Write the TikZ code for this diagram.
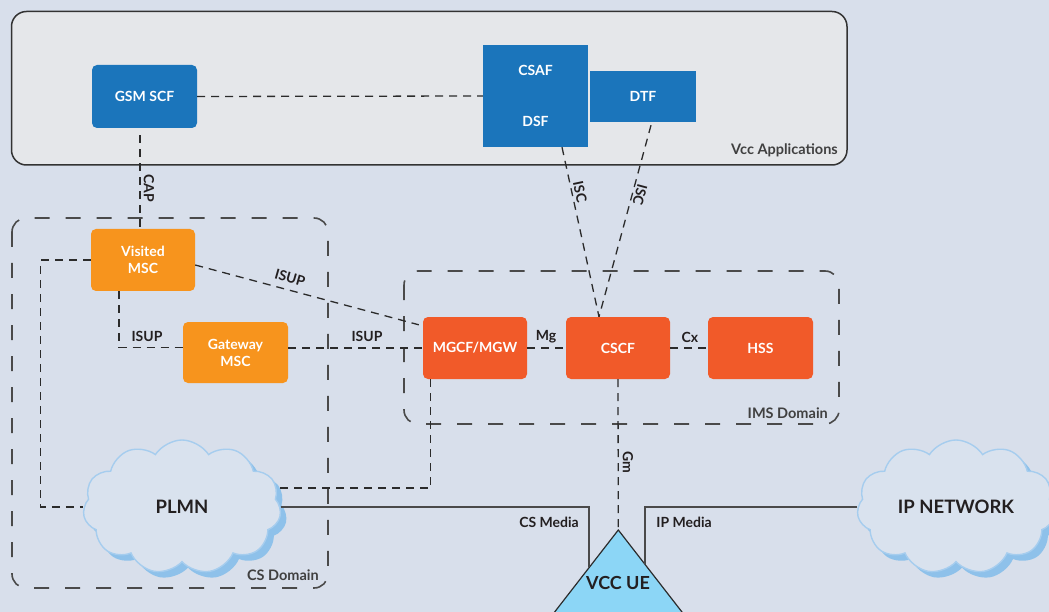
\documentclass[tikz,border=0pt]{standalone}
\usepackage{fontspec}
\setmainfont{Lato}
\usetikzlibrary{shapes.symbols,calc}
\definecolor{bgc}{HTML}{D8DFEB}
\definecolor{vccfill}{HTML}{E5E7EA}
\definecolor{vccline}{HTML}{333333}
\definecolor{blueF}{HTML}{1B75BB}
\definecolor{orangeF}{HTML}{F7941D}
\definecolor{redF}{HTML}{F15A29}
\definecolor{linec}{HTML}{2B2B2B}
\definecolor{domc}{HTML}{4A4A4A}
\definecolor{labc}{HTML}{231F20}
\definecolor{domlab}{HTML}{404040}
\definecolor{cloudline}{HTML}{A6CDEE}
\definecolor{cloudshadow}{HTML}{8EC1EA}
\definecolor{cloudfill}{HTML}{D9E2EE}
\definecolor{uefill}{HTML}{8CD6F6}
\tikzset{
  conn/.style={draw=linec, line width=1.3pt, dash pattern=on 8pt off 6pt},
  dom/.style={draw=domc, line width=1.6pt, dash pattern=on 15pt off 16pt, rounded corners=14pt},
  media/.style={draw=domc, line width=1.6pt},
  box/.style={rectangle, rounded corners=5pt, text=white, font=\fontsize{14}{17}\selectfont\bfseries, align=center, inner sep=0pt},
  bluebox/.style={box, fill=blueF},
  orbox/.style={box, fill=orangeF, minimum width=104pt, minimum height=62pt},
  redbox/.style={box, fill=redF, minimum width=104pt, minimum height=62pt},
  lbl/.style={font=\fontsize{14}{15}\selectfont\bfseries, text=labc, inner sep=0pt},
  domlbl/.style={font=\fontsize{14.5}{15}\selectfont\bfseries, text=domlab, inner sep=0pt},
  cloudsh/.style={cloud, cloud puffs=11, cloud puff arc=115, cloud ignores aspect, minimum width=198pt, minimum height=134pt, inner sep=0pt},
  bigtxt/.style={font=\fontsize{18.5}{20}\selectfont\bfseries, text=labc},
}
\begin{document}
\begin{tikzpicture}[x=1pt,y=-1pt]
\useasboundingbox (0,0) rectangle (1049,612);
\clip (0,0) rectangle (1049,612);
\fill[bgc] (0,0) rectangle (1049,612);

% Vcc Applications area
\draw[fill=vccfill, draw=vccline, line width=1.5pt, rounded corners=15pt] (11.5,11.5) rectangle (847,165);
\node[domlbl, anchor=east] (vcclab) at (838,150) {Vcc Applications};

% domains
\draw[dom] (12,218) rectangle (328,588);
\node[domlbl, anchor=east] (cslab) at (319,575) {CS Domain};
\draw[dom] (404,271) rectangle (839,424);
\node[domlbl, anchor=east] (imslab) at (828,413) {IMS Domain};

% blue boxes
\node[bluebox, minimum width=105pt, minimum height=63pt] (gsm) at (144.5,96.5) {GSM SCF};
\node[bluebox, rounded corners=0pt, minimum width=105pt, minimum height=102pt] (csafdsf) at (535.5,96) {};
\node[box] (csaftxt) at (535.5,70) {CSAF};
\node[box] (dsftxt) at (535.5,121) {DSF};
\node[bluebox, rounded corners=0pt, minimum width=106pt, minimum height=51pt] (dtf) at (643,96.5) {DTF};

% CS nodes
\node[orbox] (vmsc) at (143,260) {Visited\\MSC};
\node[orbox, minimum width=105pt, minimum height=61pt] (gmsc) at (235.5,352.5) {Gateway\\MSC};

% IMS nodes
\node[redbox] (mgcf) at (475,348) {MGCF/MGW};
\node[redbox] (cscf) at (618,348) {CSCF};
\node[redbox, minimum width=105pt] (hss) at (760.5,348) {HSS};

% clouds
\node[cloudsh, fill=cloudshadow] (plmnsh) at (188,513) {};
\node[cloudsh, fill=cloudfill, draw=cloudline, line width=1.4pt, bigtxt] (plmn) at (182,507) {PLMN};
\node[cloudsh, fill=cloudshadow] (ipsh) at (962,513) {};
\node[cloudsh, fill=cloudfill, draw=cloudline, line width=1.4pt, bigtxt] (ipnet) at (956,507) {IP NETWORK};

% VCC UE
\coordinate (ue) at (618.3,530);
\coordinate (ueL) at (529,645);
\coordinate (ueR) at (707.6,645);
\filldraw[fill=uefill, draw=linec, line width=1.2pt] (ue) -- (ueL) -- (ueR) -- cycle;
\node[bigtxt, font=\fontsize{18}{20}\selectfont\bfseries] (uetxt) at (618,583) {VCC UE};
\coordinate (csend) at (589,567);
\coordinate (ipend) at (645,564);
\coordinate (plmnne) at (276,488);

% connectors
\draw[conn] (gsm.east) -- (csafdsf.west);
\draw[conn] ($(gsm.south)+(-4.5,7)$) -- ($(vmsc.north)+(-3,0)$);
\node[lbl, rotate=-90] (caplab) at (149,188) {CAP};

\draw[conn] (vmsc.west) -- ++(-50,0) |- (plmn.west);
\draw[conn] ($(vmsc.south)+(-24,0)$) |- ([yshift=5pt]gmsc.west);
\node[lbl] (isup1) at (147,336) {ISUP};
\draw[conn] ([yshift=-5pt]vmsc.east) -- ([xshift=-4pt,yshift=-8pt]mgcf.north west);
\node[lbl, rotate=-16] (isup2) at (290,278) {ISUP};
\draw[conn] (gmsc.east |- mgcf.west) -- (mgcf.west);
\node[lbl] (isup3) at (367,336) {ISUP};

\draw[conn] (mgcf.east) -- (cscf.west);
\node[lbl] (mglab) at (546,337) {Mg};
\draw[conn] (cscf.east) -- (hss.west);
\node[lbl] (cxlab) at (690,337) {Cx};

\draw[conn] ($(mgcf.south west)+(8,0)$) |- (plmnne);

\draw[conn] ($(csafdsf.south)+(26.5,0)$) -- ([xshift=-19pt]cscf.north);
\node[lbl, rotate=-78] (isc1) at (580,192) {ISC};
\draw[conn] ($(dtf.south)+(8,3)$) -- ([xshift=-19pt]cscf.north);
\node[lbl, rotate=-105] (isc2) at (640,195) {ISC};

\draw[conn] (cscf.south) -- (ue);
\node[lbl, rotate=-90] (gmlab) at (628,462) {Gm};

% media
\draw[media] (plmn.east) -| (csend);
\node[lbl] (csmlab) at (549,522) {CS Media};
\draw[media] (ipnet.west) -| (ipend);
\node[lbl] (ipmlab) at (684,522) {IP Media};
\end{tikzpicture}
\end{document}
